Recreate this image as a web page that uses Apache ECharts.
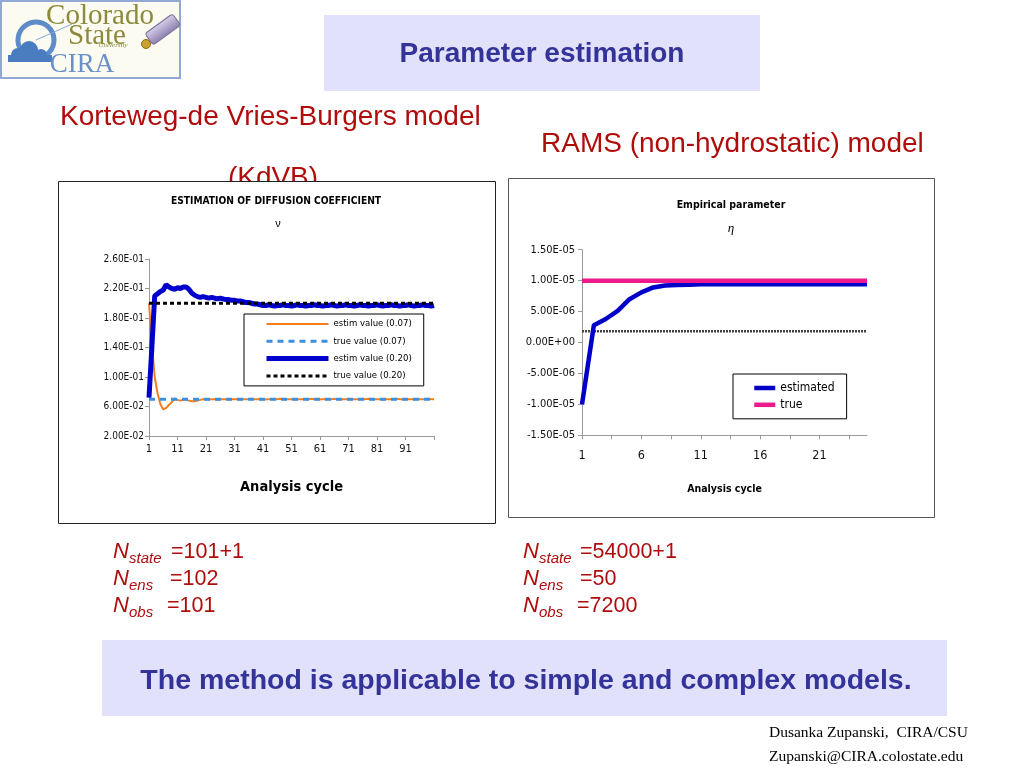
<!DOCTYPE html>
<html><head><meta charset="utf-8">
<script src="https://cdn.jsdelivr.net/npm/echarts@6/dist/echarts.min.js"></script>
<style>html,body{margin:0;padding:0;background:#fff}#c{width:1024px;height:768px}</style>
</head><body><div id="c"></div>
<script>
// ---------- KdVB chart data ----------
const cyclesKdVB = [1,2,3,4,5,6,7,8,9,10,11,12,13,14,15,16,17,18,19,20,21,22,23,24,25,26,27,28,29,30,
31,32,33,34,35,36,37,38,39,40,41,42,43,44,45,46,47,48,49,50,51,52,53,54,55,56,57,58,59,60,
61,62,63,64,65,66,67,68,69,70,71,72,73,74,75,76,77,78,79,80,81,82,83,84,85,86,87,88,89,90,
91,92,93,94,95,96,97,98,99,100,101];
const estimNu007 = [0.200,0.145,0.100,0.078,0.063,0.056,0.058,0.062,0.066,0.071,
0.069,0.068,0.069,0.069,0.068,0.067,0.067,0.068,0.069,0.070,
0.070,0.069,0.070,0.070,0.069,0.070,0.070,0.070,0.069,0.070,
0.070,0.070,0.0695,0.070,0.070,0.070,0.0705,0.070,0.070,0.070,
0.070,0.0695,0.070,0.070,0.070,0.070,0.0705,0.070,0.070,0.070,
0.070,0.070,0.0695,0.070,0.070,0.070,0.070,0.0705,0.070,0.070,
0.0695,0.070,0.070,0.070,0.070,0.0705,0.070,0.070,0.070,0.070,
0.070,0.0695,0.070,0.070,0.070,0.070,0.070,0.0705,0.070,0.070,
0.070,0.070,0.0695,0.070,0.070,0.070,0.070,0.0705,0.070,0.070,
0.070,0.070,0.070,0.0695,0.070,0.070,0.070,0.070,0.0705,0.070,
0.070];
const estimNu020 = [0.072,0.140,0.210,0.213,0.216,0.218,0.225,0.222,0.220,0.219,
0.221,0.220,0.222,0.222,0.219,0.214,0.211,0.209,0.208,0.209,
0.208,0.207,0.208,0.207,0.206,0.207,0.206,0.205,0.205,0.204,
0.204,0.203,0.203,0.202,0.201,0.201,0.200,0.199,0.199,0.198,
0.197,0.197,0.198,0.197,0.196,0.197,0.197,0.198,0.197,0.197,
0.196,0.197,0.198,0.197,0.197,0.196,0.197,0.197,0.198,0.197,
0.197,0.196,0.197,0.197,0.198,0.197,0.196,0.197,0.197,0.198,
0.197,0.197,0.196,0.197,0.198,0.197,0.197,0.196,0.197,0.197,
0.198,0.197,0.196,0.197,0.197,0.198,0.197,0.197,0.196,0.197,
0.197,0.198,0.197,0.196,0.197,0.197,0.198,0.197,0.197,0.196,
0.197];
const trueNu007 = 0.07;
const trueNu020 = 0.20;
const kdvbXLabels = [1,11,21,31,41,51,61,71,81,91];
const kdvbXTicks = [1,11,21,31,41,51,61,71,81,91,101];
const kdvbYTicks = [0.02,0.06,0.10,0.14,0.18,0.22,0.26];

// ---------- RAMS chart data ----------
const cyclesRAMS = [1,2,3,4,5,6,7,8,9,10,11,12,13,14,15,16,17,18,19,20,21,22,23,24,25];
const estimEta = [-1.0e-5,2.8e-6,3.8e-6,5.1e-6,7.0e-6,8.1e-6,8.9e-6,9.2e-6,9.3e-6,9.35e-6,
9.4e-6,9.4e-6,9.4e-6,9.4e-6,9.4e-6,9.4e-6,9.4e-6,9.4e-6,9.4e-6,9.4e-6,
9.4e-6,9.4e-6,9.4e-6,9.4e-6,9.4e-6];
const trueEta = 1.0e-5;
const guessEta = 1.8e-6;
const ramsXLabels = [1,6,11,16,21];
const ramsXTicks = [1,3.5,6,8.5,11,13.5,16,18.5,21,23.5];
const ramsYTicks = [-1.5e-5,-1.0e-5,-5.0e-6,0,5.0e-6,1.0e-5,1.5e-5];

const NARROW = "'Liberation Sans Narrow','Arial Narrow','DejaVu Sans Condensed',sans-serif";
const SANS = "'Liberation Sans',Arial,Helvetica,sans-serif";
const SERIF = "'Liberation Serif','Times New Roman',serif";
const RED = '#b00c0c';
const NAVY = '#333399';

function sci(v){
  if (Math.abs(v) < 1e-12) return '0.00E+00';
  const s = v.toExponential(2).split('e');
  const e = parseInt(s[1],10);
  const d = Math.abs(e);
  return s[0] + 'E' + (e<0?'-':'+') + (d<10?'0':'') + d;
}
const pairs = (xs, ys) => xs.map((x,i)=>[x, ys[i]]);

const axisGray = '#9a9a9a';
function xAx(grid, min, max, ticks, labels, fs, margin, nameGap, nameFs){
  return {gridIndex:grid, type:'value', min:min, max:max,
    axisLine:{show:true, onZero:false, lineStyle:{color:axisGray, width:1}},
    axisTick:{show:true, customValues:ticks, length:4, lineStyle:{color:axisGray}},
    axisLabel:{customValues:labels, fontFamily:NARROW, fontSize:fs, color:'#111', margin:margin},
    splitLine:{show:false},
    name:'Analysis cycle', nameLocation:'middle', nameGap:nameGap,
    nameTextStyle:{fontFamily:NARROW, fontWeight:'bold', fontSize:nameFs, color:'#000'}};
}
function yAx(grid, min, max, ticks, fs, margin){
  return {gridIndex:grid, type:'value', min:min, max:max,
    axisLine:{show:true, onZero:false, lineStyle:{color:axisGray, width:1}},
    axisTick:{show:true, customValues:ticks, length:4, lineStyle:{color:axisGray}},
    axisLabel:{customValues:ticks, formatter:sci, fontFamily:NARROW, fontSize:fs, color:'#111', margin:margin},
    splitLine:{show:false}};
}

function txt(x, y, text, o){
  o = o || {};
  return {type:'text', x:x, y:y, z:o.z||1, rotation:o.rotation||0,
    style:{text:text, fill:o.fill||'#000', fontSize:o.size||12, fontFamily:o.family||SANS,
      fontWeight:o.weight||'normal', fontStyle:o.style||'normal',
      align:o.align||'left', textAlign:o.align||'left', verticalAlign:'middle', textVerticalAlign:'middle'}};
}

const graphics = [
  // logo
  {type:'rect', shape:{x:1,y:1,width:179,height:77}, style:{fill:'#fbfbf1', stroke:'#93a9d4', lineWidth:2}, z:1},
  {type:'arc', shape:{cx:36,cy:40,r:18,startAngle:Math.PI*0.8,endAngle:Math.PI*2.4}, style:{fill:'none', stroke:'#5d8cc8', lineWidth:5}, z:1},
  {type:'line', shape:{x1:36,y1:40,x2:72,y2:24}, style:{stroke:'#8aa8d8', lineWidth:1}, z:1},
  {type:'circle', shape:{cx:18,cy:55,r:7}, style:{fill:'#4a7cc0'}, z:1},
  {type:'circle', shape:{cx:29,cy:50,r:9}, style:{fill:'#4a7cc0'}, z:1},
  {type:'circle', shape:{cx:41,cy:55,r:6}, style:{fill:'#4a7cc0'}, z:1},
  {type:'rect', shape:{x:8,y:55,width:44,height:7}, style:{fill:'#4a7cc0'}, z:1},
  txt(100, 16, 'Colorado', {family:SERIF, size:29, fill:'#8d8a3d', align:'center'}),
  txt(97, 36, 'State', {family:SERIF, size:29, fill:'#8d8a3d', align:'center'}),
  txt(113, 45, 'University', {family:SERIF, size:7, fill:'#8d8a3d', align:'center', style:'italic'}),
  txt(82, 65, 'CIRA', {family:SERIF, size:27, fill:'#6a90c8', align:'center'}),
  {type:'rect', shape:{x:-16,y:-7,width:34,height:14,r:3}, x:162, y:30, rotation:Math.PI/5,
    style:{fill:new echarts.graphic.LinearGradient(0,0,0,1,[{offset:0,color:'#d8d0ea'},{offset:1,color:'#8c7eb0'}]), stroke:'#7a7098'}, z:2},
  {type:'circle', shape:{cx:146,cy:44,r:4.5}, style:{fill:'#c9a232', stroke:'#8a6a10'}, z:2},

  // title box
  {type:'rect', shape:{x:324,y:15,width:436,height:76}, style:{fill:'#e1e1fb'}, z:1},
  txt(542, 54, 'Parameter estimation', {size:28, weight:'bold', fill:NAVY, align:'center'}),

  // model headings
  txt(60, 117, 'Korteweg-de Vries-Burgers model', {size:28, fill:RED}),
  txt(273, 178, '(KdVB)', {size:28, fill:RED, align:'center', z:-2}),
  txt(541, 144, 'RAMS (non-hydrostatic) model', {size:28, fill:RED}),

  // chart boxes
  {type:'rect', shape:{x:58.5,y:181.5,width:437,height:342}, style:{fill:'#fff', stroke:'#222', lineWidth:1}, z:-1},
  {type:'rect', shape:{x:508.5,y:178.5,width:426,height:339}, style:{fill:'#fff', stroke:'#555', lineWidth:1}, z:-1},

  // chart titles
  txt(276, 201, 'ESTIMATION OF DIFFUSION COEFFICIENT', {family:NARROW, size:10.2, weight:'bold', align:'center'}),
  txt(278, 224, 'ν', {size:11, align:'center'}),
  txt(731, 205, 'Empirical parameter', {family:NARROW, size:10.5, weight:'bold', align:'center'}),
  txt(731, 229, 'η', {family:SERIF, size:13, style:'italic', align:'center'}),

  // N texts left
  txt(113, 552, 'N', {size:22, style:'italic', fill:RED}),
  txt(129, 559, 'state', {size:15, style:'italic', fill:RED}),
  txt(171, 552, '=101+1', {size:21.5, fill:RED}),
  txt(113, 579, 'N', {size:22, style:'italic', fill:RED}),
  txt(129, 586, 'ens', {size:15, style:'italic', fill:RED}),
  txt(170, 579, '=102', {size:21.5, fill:RED}),
  txt(113, 606, 'N', {size:22, style:'italic', fill:RED}),
  txt(129, 613, 'obs', {size:15, style:'italic', fill:RED}),
  txt(167, 606, '=101', {size:21.5, fill:RED}),
  // N texts right
  txt(523, 552, 'N', {size:22, style:'italic', fill:RED}),
  txt(539, 559, 'state', {size:15, style:'italic', fill:RED}),
  txt(580, 552, '=54000+1', {size:21.5, fill:RED}),
  txt(523, 579, 'N', {size:22, style:'italic', fill:RED}),
  txt(539, 586, 'ens', {size:15, style:'italic', fill:RED}),
  txt(580, 579, '=50', {size:21.5, fill:RED}),
  txt(523, 606, 'N', {size:22, style:'italic', fill:RED}),
  txt(539, 613, 'obs', {size:15, style:'italic', fill:RED}),
  txt(577, 606, '=7200', {size:21.5, fill:RED}),

  // bottom box
  {type:'rect', shape:{x:102,y:640,width:845,height:76}, style:{fill:'#e1e1fb'}, z:1},
  txt(526, 681, 'The method is applicable to simple and complex models.', {size:28.5, weight:'bold', fill:NAVY, align:'center'}),

  // footer
  txt(769, 733, 'Dusanka Zupanski,  CIRA/CSU', {family:SERIF, size:15.5}),
  txt(769, 757, 'Zupanski@CIRA.colostate.edu', {family:SERIF, size:15.5})
];

const legendCommon = {
  orient:'vertical', borderColor:'#000', borderWidth:1, backgroundColor:'#fff', selectedMode:false,
  itemStyle:{opacity:0, color:'transparent', borderWidth:0},
  lineStyle:{width:'inherit', type:'inherit', color:'inherit'}
};

const option = {
  backgroundColor:'#fff',
  animation:false,
  graphic:{elements:graphics},
  grid:[
    {left:149, right:1024-434, top:259, bottom:768-436},
    {left:582, right:1024-867, top:249.7, bottom:768-435.3}
  ],
  xAxis:[
    xAx(0, 1, 101, kdvbXTicks, kdvbXLabels, 11, 8, 44, 14.5),
    xAx(1, 1, 25, ramsXTicks, ramsXLabels, 12.5, 14, 48, 10.5)
  ],
  yAxis:[
    yAx(0, 0.02, 0.26, kdvbYTicks, 10, 5),
    yAx(1, -1.5e-5, 1.5e-5, ramsYTicks, 11, 7)
  ],
  legend:[
    Object.assign({}, legendCommon, {
     data:['estim value (0.07)','true value (0.07)','estim value (0.20)','true value (0.20)'],
     left:244, top:314, padding:[5,12,5,20], itemWidth:62, itemHeight:12, itemGap:7.3,
     textStyle:{fontFamily:NARROW, fontSize:9.5, color:'#000'}}),
    Object.assign({}, legendCommon, {
     data:['estimated','true'],
     left:733, top:374, padding:[8,12,8,19], itemWidth:21, itemHeight:14, itemGap:4.8,
     textStyle:{fontFamily:NARROW, fontSize:12, color:'#000'}})
  ],
  series:[
    {name:'estim value (0.07)', type:'line', xAxisIndex:0, yAxisIndex:0, symbol:'none',
     data:pairs(cyclesKdVB, estimNu007), lineStyle:{color:'#f47d20', width:2}, itemStyle:{color:'#f47d20'}},
    {name:'true value (0.07)', type:'line', xAxisIndex:0, yAxisIndex:0, symbol:'none',
     data:[[cyclesKdVB[0], trueNu007],[cyclesKdVB[cyclesKdVB.length-1], trueNu007]],
     lineStyle:{color:'#3d8fe0', width:3, type:[6,5]}, itemStyle:{color:'#3d8fe0'}},
    {name:'estim value (0.20)', type:'line', xAxisIndex:0, yAxisIndex:0, symbol:'none',
     data:pairs(cyclesKdVB, estimNu020), lineStyle:{color:'#0000cc', width:5}, itemStyle:{color:'#0000cc'}},
    {name:'true value (0.20)', type:'line', xAxisIndex:0, yAxisIndex:0, symbol:'none',
     data:[[cyclesKdVB[0], trueNu020],[cyclesKdVB[cyclesKdVB.length-1], trueNu020]],
     lineStyle:{color:'#000', width:3, type:[4,3]}, itemStyle:{color:'#000'}},

    {name:'first guess', type:'line', xAxisIndex:1, yAxisIndex:1, symbol:'none',
     data:[[cyclesRAMS[0], guessEta],[cyclesRAMS[cyclesRAMS.length-1], guessEta]],
     lineStyle:{color:'#444', width:2.5, type:[2,1]}},
    {name:'estimated', type:'line', xAxisIndex:1, yAxisIndex:1, symbol:'none',
     data:pairs(cyclesRAMS, estimEta), lineStyle:{color:'#0000c8', width:4.5}, itemStyle:{color:'#0000c8'}},
    {name:'true', type:'line', xAxisIndex:1, yAxisIndex:1, symbol:'none',
     data:[[cyclesRAMS[0], trueEta],[cyclesRAMS[cyclesRAMS.length-1], trueEta]],
     lineStyle:{color:'#ec1a8c', width:4.5}, itemStyle:{color:'#ec1a8c'}}
  ]
};
const chart = echarts.init(document.getElementById('c'));
chart.setOption(option);
</script>
</body></html>
